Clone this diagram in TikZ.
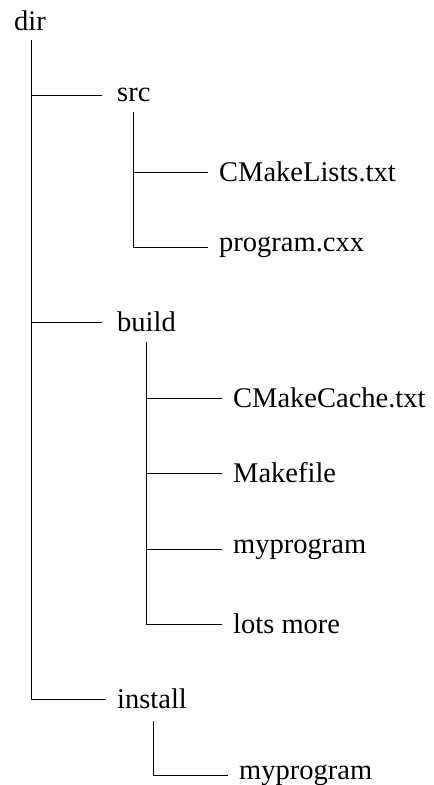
\documentclass[tikz,border=0pt]{standalone}
\usepackage{fontspec}
\setmainfont{Liberation Serif}
\begin{document}
\begin{tikzpicture}[x=1pt,y=1pt,
  entry/.style={anchor=west, inner ysep=0pt, font=\fontsize{28.5}{32}\selectfont},
  lvlone/.style={entry, inner xsep=15pt},
  lvlsub/.style={entry, inner xsep=11pt},
  branch/.style={line width=0.8pt}]
\useasboundingbox (0,0) rectangle (434,-785);

% root
\node[anchor=base west, inner sep=0pt, font=\fontsize{28.5}{32}\selectfont] (dir) at (14,-30) {dir};
\coordinate (dirtop) at (31,-40);

% first level
\node[lvlone] (src)     at (102,-95)  {src};
\node[lvlone] (build)   at (102,-322) {build};
\node[lvlsub] (install) at (106,-699) {install};

% contents of src
\coordinate (srctop) at (133,-112);
\node[lvlsub] (cml)  at (208,-172) {CMakeLists.txt};
\node[lvlsub] (prog) at (208,-247) {program.cxx};

% contents of build
\coordinate (buildtop) at (146,-342);
\node[lvlsub] (cache) at (222,-398) {CMakeCache.txt};
\node[lvlsub] (make)  at (222,-473) {Makefile};
\node[lvlsub] (mybin) at (222,-549) {myprogram};
\node[lvlsub] (more)  at (222,-624) {lots more};

% contents of install
\coordinate (insttop) at (153,-721);
\node[lvlsub] (instbin) at (228,-775) {myprogram};

% branches
\draw[branch] (dirtop) |- (src.west);
\draw[branch] (dirtop) |- (build.west);
\draw[branch] (dirtop) |- (install.west);

\draw[branch] (srctop) |- (cml.west);
\draw[branch] (srctop) |- (prog.west);

\draw[branch] (buildtop) |- (cache.west);
\draw[branch] (buildtop) |- (make.west);
\draw[branch] (buildtop) |- (mybin.west);
\draw[branch] (buildtop) |- (more.west);

\draw[branch] (insttop) |- (instbin.west);
\end{tikzpicture}
\end{document}
